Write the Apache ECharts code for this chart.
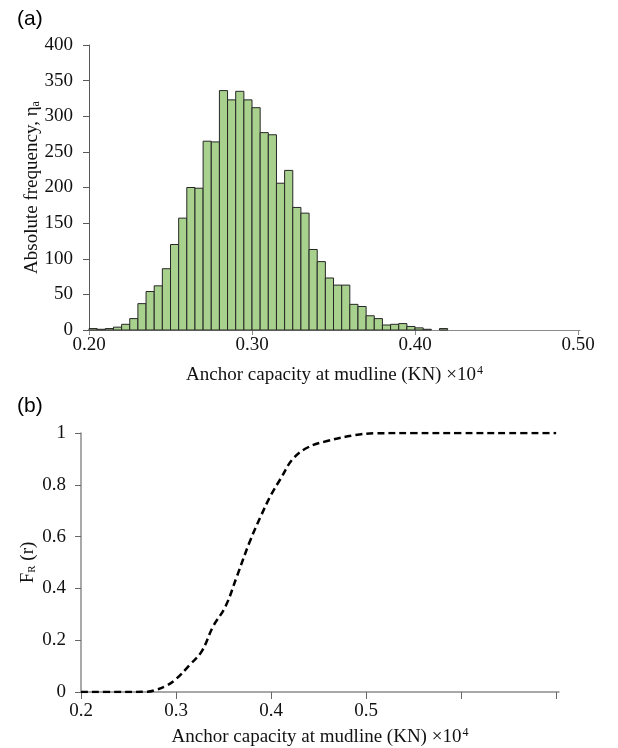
<!DOCTYPE html>
<html>
<head>
<meta charset="utf-8">
<script src="https://cdn.jsdelivr.net/npm/echarts@6/dist/echarts.min.js"></script>
<style>
  html, body { margin: 0; padding: 0; background: #fff; }
  #chart { width: 618px; height: 748px; }
</style>
</head>
<body>
<div id="chart"></div>
<script>
// Histogram of anchor capacity: bins of 0.005 (×10^4 KN) starting at 0.20
const binStart = 0.20;
const binWidth = 0.005;
const counts = [2, 1, 2, 4, 8, 16, 37, 54, 62, 86, 120, 157, 200, 199, 265, 264,
  336, 323, 335, 323, 312, 277, 274, 206, 224, 172, 164, 113, 96, 73, 63, 63,
  36, 33, 20, 16, 7, 8, 9, 5, 3, 1, 0, 2];

// Cumulative distribution F_R(r)
const cdfX = [0.20, 0.24, 0.27, 0.277, 0.29, 0.30, 0.3145, 0.327, 0.339, 0.352,
  0.364, 0.377, 0.389, 0.40, 0.41, 0.423, 0.439, 0.46, 0.489, 0.51, 0.55, 0.60, 0.65, 0.70];
const cdfY = [0, 0, 0.001, 0.006, 0.025, 0.05, 0.105, 0.157, 0.253, 0.33,
  0.446, 0.575, 0.677, 0.761, 0.823, 0.9, 0.945, 0.97, 0.992, 0.999, 1, 1, 1, 1];

// Tick positions / labels
const histTicks = [0.20, 0.30, 0.40, 0.50];
const cdfTicks = [0.2, 0.3, 0.4, 0.5, 0.6, 0.7];
const cdfLabels = [0.2, 0.3, 0.4, 0.5];

const serif = '"Liberation Serif", "Times New Roman", serif';
const sans = '"Liberation Sans", Arial, sans-serif';
const FS = 19;

const histData = counts
  .map((c, i) => [binStart + i * binWidth, binStart + (i + 1) * binWidth, c])
  .filter(d => d[2] > 0);

const cdfData = cdfX.map((x, i) => [x, cdfY[i]]);

const labelStyle = { fontFamily: serif, fontSize: FS, color: '#111' };
const xName = '{n|Anchor capacity at mudline (KN) ×10}{sup|4}';
const xNameStyle = {
  fontFamily: serif, fontSize: FS, color: '#111',
  rich: {
    n: { fontFamily: serif, fontSize: FS, color: '#111' },
    sup: { fontFamily: serif, fontSize: 12, color: '#111', verticalAlign: 'top', padding: [0, 0, 9, 1] }
  }
};

const chart = echarts.init(document.getElementById('chart'), null, { renderer: 'canvas' });

chart.setOption({
  animation: false,
  backgroundColor: '#fff',
  title: [
    { text: '(a)', left: 12, top: 4, textStyle: { fontFamily: sans, fontSize: 21, fontWeight: 'normal', color: '#000' } },
    { text: '(b)', left: 12, top: 391, textStyle: { fontFamily: sans, fontSize: 21, fontWeight: 'normal', color: '#000' } }
  ],
  grid: [
    { left: 89, top: 45, width: 491, height: 285 },
    { left: 81, top: 433, width: 478, height: 260 }
  ],
  xAxis: [
    {
      type: 'value', gridIndex: 0, min: 0.2, max: 0.5012,
      splitLine: { show: false },
      axisLine: { show: true, lineStyle: { color: '#8c8c8c', width: 1 } },
      axisTick: { show: true, length: 5, customValues: histTicks, lineStyle: { color: '#8c8c8c' } },
      axisLabel: { ...labelStyle, margin: 6, customValues: histTicks, formatter: v => v.toFixed(2) },
      name: xName, nameLocation: 'middle', nameGap: 35, nameMoveOverlap: false, nameTextStyle: xNameStyle
    },
    {
      type: 'value', gridIndex: 1, min: 0.2, max: 0.703,
      splitLine: { show: false },
      axisLine: { show: true, lineStyle: { color: '#8c8c8c', width: 1.5 } },
      axisTick: { show: true, length: 7, customValues: cdfTicks, lineStyle: { color: '#666' } },
      axisLabel: { ...labelStyle, margin: 10, customValues: cdfLabels, formatter: v => v.toFixed(1) },
      name: xName, nameLocation: 'middle', nameGap: 35, nameMoveOverlap: false, nameTextStyle: xNameStyle
    }
  ],
  yAxis: [
    {
      type: 'value', gridIndex: 0, min: 0, max: 400, interval: 50,
      splitLine: { show: false },
      axisLine: { show: true, lineStyle: { color: '#595959', width: 1 } },
      axisTick: { show: true, length: 6, lineStyle: { color: '#595959' } },
      axisLabel: { ...labelStyle, margin: 16 },
      name: '{n|Absolute frequency, η}{sub|a}',
      nameLocation: 'middle', nameGap: 47, nameRotate: 90, nameMoveOverlap: false,
      nameTextStyle: {
        fontFamily: serif, fontSize: FS, color: '#111',
        rich: {
          n: { fontFamily: serif, fontSize: FS, color: '#111' },
          sub: { fontFamily: serif, fontSize: 12, color: '#111', verticalAlign: 'bottom', padding: [7, 0, 0, 0] }
        }
      }
    },
    {
      type: 'value', gridIndex: 1, min: 0, max: 1, interval: 0.2,
      splitLine: { show: false },
      axisLine: { show: true, lineStyle: { color: '#8c8c8c', width: 1.5 } },
      axisTick: { show: true, length: 6, lineStyle: { color: '#666' } },
      axisLabel: { ...labelStyle, margin: 15, formatter: v => (v === 0 || v === 1) ? String(v) : v.toFixed(1) },
      name: '{n|F}{sub|R}{n| (r)}',
      nameLocation: 'middle', nameGap: 43, nameRotate: 90, nameMoveOverlap: false,
      nameTextStyle: {
        fontFamily: serif, fontSize: FS, color: '#111',
        rich: {
          n: { fontFamily: serif, fontSize: FS, color: '#111' },
          sub: { fontFamily: serif, fontSize: 11, color: '#111', verticalAlign: 'bottom', padding: [7, 0, 0, 0] }
        }
      }
    }
  ],
  series: [
    {
      type: 'custom',
      xAxisIndex: 0, yAxisIndex: 0,
      data: histData,
      renderItem: function (params, api) {
        const p0 = api.coord([api.value(0), 0]);
        const p1 = api.coord([api.value(1), api.value(2)]);
        return {
          type: 'rect',
          shape: { x: p0[0], y: p1[1], width: p1[0] - p0[0], height: p0[1] - p1[1] },
          style: { fill: '#A9D18E', stroke: '#262626', lineWidth: 1 }
        };
      }
    },
    {
      type: 'line',
      xAxisIndex: 1, yAxisIndex: 1,
      data: cdfData,
      smooth: 0.4,
      showSymbol: false,
      lineStyle: { color: '#000', width: 2.5, type: [7, 4] }
    }
  ]
});
</script>
</body>
</html>
